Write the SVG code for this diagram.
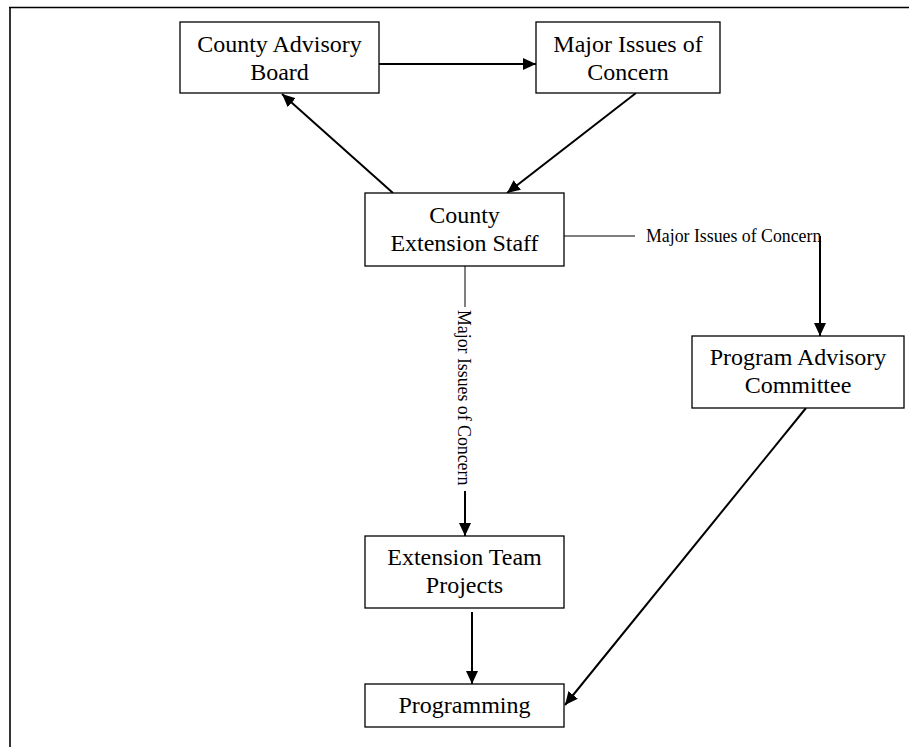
<svg xmlns="http://www.w3.org/2000/svg" width="909" height="747" viewBox="0 0 909 747">
<style>
.box{fill:#fff;stroke:#000;stroke-width:1.3}
.t{font-family:"Liberation Serif","Times New Roman",serif;font-size:24px;fill:#000;text-anchor:middle}
.lbl{font-family:"Liberation Serif","Times New Roman",serif;font-size:17.8px;fill:#000}
.thin{stroke:#000;stroke-width:1;fill:none}
.arr{stroke:#000;stroke-width:2;fill:none;marker-end:url(#ah)}
</style>
<defs>
<marker id="ah" markerUnits="userSpaceOnUse" markerWidth="14" markerHeight="12" refX="13" refY="6" orient="auto">
<path d="M0,0 L13,6 L0,12 Z" fill="#000"/>
</marker>
</defs>
<rect width="909" height="747" fill="#fff"/>
<g id="frame">
<line x1="9" y1="7.5" x2="909" y2="7.5" stroke="#000" stroke-width="1.6"/>
<line x1="10" y1="7" x2="10" y2="747" stroke="#000" stroke-width="1.6"/>
</g>
<g id="connectors">
<line class="arr" x1="379" y1="64" x2="536" y2="64"/>
<line class="arr" x1="393" y1="193" x2="282" y2="94"/>
<line class="arr" x1="636" y1="93" x2="507" y2="193"/>
<line class="thin" x1="564" y1="236" x2="635" y2="236"/>
<text class="lbl" x="646" y="242">Major Issues of Concern</text>
<line class="arr" x1="820" y1="236" x2="820" y2="336"/>
<line class="thin" x1="465" y1="266" x2="465" y2="307"/>
<text class="lbl" transform="translate(458,310) rotate(90)">Major Issues of Concern</text>
<line class="arr" x1="465" y1="491" x2="465" y2="536"/>
<line class="arr" x1="472" y1="612" x2="472" y2="684"/>
<line class="arr" x1="806" y1="408" x2="565" y2="705"/>
</g>
<g id="county-advisory-board">
<rect class="box" x="180" y="22" width="199" height="71"/>
<text class="t" x="279.5" y="52">County Advisory</text>
<text class="t" x="279.5" y="80">Board</text>
</g>
<g id="major-issues">
<rect class="box" x="536" y="22" width="184" height="71"/>
<text class="t" x="628" y="52">Major Issues of</text>
<text class="t" x="628" y="80">Concern</text>
</g>
<g id="county-extension-staff">
<rect class="box" x="365" y="193" width="199" height="73"/>
<text class="t" x="464.5" y="223">County</text>
<text class="t" x="464.5" y="251">Extension Staff</text>
</g>
<g id="program-advisory-committee">
<rect class="box" x="692" y="336" width="212" height="72"/>
<text class="t" x="798" y="365">Program Advisory</text>
<text class="t" x="798" y="393">Committee</text>
</g>
<g id="extension-team-projects">
<rect class="box" x="365" y="536" width="199" height="72"/>
<text class="t" x="464.5" y="565">Extension Team</text>
<text class="t" x="464.5" y="593">Projects</text>
</g>
<g id="programming">
<rect class="box" x="365" y="684" width="199" height="43"/>
<text class="t" x="464.5" y="713">Programming</text>
</g>
</svg>
